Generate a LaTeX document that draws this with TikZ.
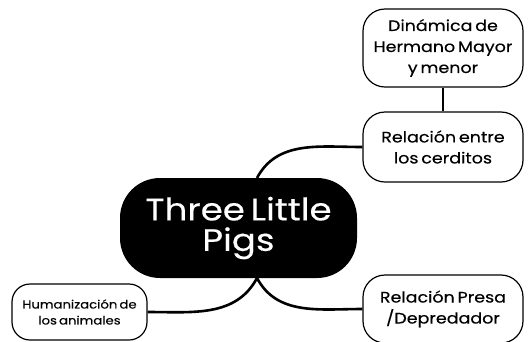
\documentclass[tikz,border=0pt]{standalone}
\usepackage{fontspec}
\setmainfont{Poppins}
\newfontfamily\mapfont[FakeStretch=1.15,WordSpace=0.6,FakeBold=0.3]{Poppins}
\begin{document}
\begin{tikzpicture}[x=1pt,y=-1pt]
	\tikzstyle{topic}=[draw=black,fill=white,line width=1.2pt,rounded corners=22pt,align=center,font=\mapfont\fontsize{15.2}{21}\selectfont,minimum width=160pt,inner sep=0pt]
	\tikzstyle{hub}=[fill=black,text=white,rounded corners=40pt,align=center,font=\mapfont\fontsize{31}{30.5}\selectfont,minimum width=237pt,minimum height=100pt]
	\tikzstyle{link}=[line width=2.6pt]
	\useasboundingbox[fill=white] (0,0) rectangle (531,341);
	\node[hub](pigs) at (238.5,228) {Three Little\\Pigs};
	\node[topic,minimum height=78pt](dina) at (443,48) {Dinámica de\\Hermano Mayor\\y menor};
	\node[topic,minimum height=70pt](rel) at (443,147) {Relación entre\\los cerditos};
	\node[topic,minimum height=68pt](presa) at (443,309) {Relación Presa\\/Depredador};
	\node[topic,minimum width=135pt,minimum height=56pt,rounded corners=18pt,font=\mapfont\fontsize{11.5}{16}\selectfont](hum) at (79.5,312) {Humanización de\\los animales};
	\coordinate (top) at (257,178);
	\coordinate (bot) at (257,278);
	\draw[link] (dina) -- (rel);
	\draw[link] (rel.west) to[out=180,in=62] (top);
	\draw[link] (presa.west) to[out=180,in=-62] (bot);
	\draw[link] (hum.east) to[out=0,in=-118] (bot);
\end{tikzpicture}
\end{document}
